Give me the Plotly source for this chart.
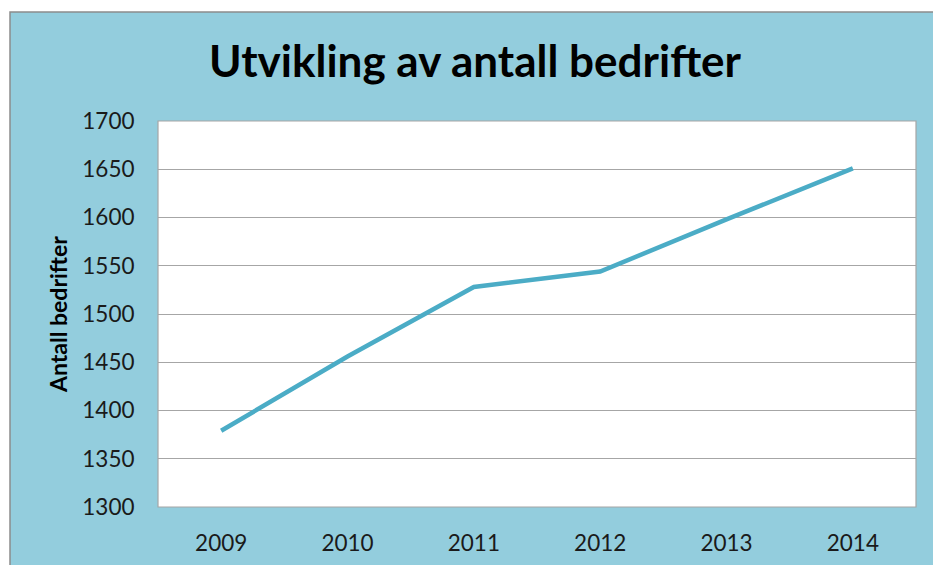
import plotly.graph_objects as go

years = ["2009", "2010", "2011", "2012", "2013", "2014"]
antall = [1379, 1456, 1528, 1544, 1598, 1651]
y_ticks = [1300, 1350, 1400, 1450, 1500, 1550, 1600, 1650, 1700]

W, H = 933, 565
L, R, T, B = 158, 17, 121, 58
pw, ph = W - L - R, H - T - B

BLUE = "#93CDDD"
LINE = "#4BACC6"
GRID = "#A6A6A6"
FONT = "Lato"

fig = go.Figure()
fig.add_trace(go.Scatter(x=years, y=antall, mode="lines",
                         line=dict(color=LINE, width=4.5), hoverinfo="x+y"))

fig.update_layout(
    width=W, height=H,
    margin=dict(l=L, r=R, t=T, b=B, pad=0, autoexpand=False),
    paper_bgcolor="white", plot_bgcolor="white",
    showlegend=False,
    title=dict(text="<b>Utvikling av antall bedrifter</b>",
               font=dict(family=FONT, size=44, color="black"),
               x=475 / W, xanchor="center", xref="container",
               y=1 - 62 / H, yanchor="middle", yref="container"),
    xaxis=dict(type="category", range=[-0.5, 5.5], showgrid=False,
               zeroline=False, showline=False, automargin=False,
               ticks="outside", ticklen=16, tickcolor="rgba(0,0,0,0)",
               tickfont=dict(family=FONT, size=22.5, color="#1a1a1a")),
    yaxis=dict(range=[1300, 1700], tickvals=y_ticks, showgrid=True,
               gridcolor=GRID, gridwidth=1.2, zeroline=False, showline=False,
               automargin=False,
               ticks="outside", ticklen=18, tickcolor="rgba(0,0,0,0)",
               tickfont=dict(family=FONT, size=22.5, color="#1a1a1a")),
    shapes=[
        dict(type="rect", xref="paper", yref="paper", layer="below",
             x0=(10 - L) / pw, x1=1 + (R + 20) / pw,
             y0=-(B + 20) / ph, y1=1 + (T - 12) / ph,
             fillcolor=BLUE, line=dict(color="#8C8C8C", width=1.5)),
        dict(type="rect", xref="paper", yref="paper", layer="below",
             x0=0, x1=1, y0=0, y1=1,
             fillcolor="white", line=dict(color="#A6A6A6", width=1.2)),
    ],
    annotations=[
        dict(text="<b>Antall bedrifter</b>", xref="paper", yref="paper",
             x=(58 - L) / pw, y=1 - (315 - T) / ph, textangle=-90,
             showarrow=False, xanchor="center", yanchor="middle",
             font=dict(family=FONT, size=23, color="black")),
    ],
)

fig.write_html("out.html",
               config={"displayModeBar": False},
               post_script="document.body.style.margin='0';"
                           "document.body.style.overflow='hidden';")
